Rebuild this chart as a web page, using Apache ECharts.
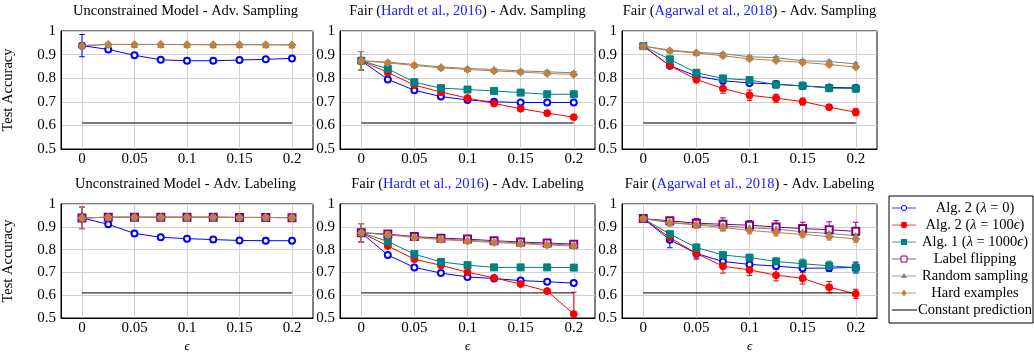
<!DOCTYPE html>
<html>
<head>
<meta charset="utf-8">
<script src="https://cdn.jsdelivr.net/npm/echarts@6/dist/echarts.min.js"></script>
<style>
html, body { margin: 0; padding: 0; background: #fff; }
#chart { width: 1034px; height: 354px; }
</style>
</head>
<body>
<div id="chart"></div>
<script>
// perturbation levels (x axis) and tick positions
const eps = [0, 0.025, 0.05, 0.075, 0.1, 0.125, 0.15, 0.175, 0.2];
const xTicks = [0, 0.05, 0.1, 0.15, 0.2];
const constantAcc = 0.61;

// Unconstrained model - adversarial sampling
const uncSampAlg2 = [0.938, 0.922, 0.897, 0.878, 0.874, 0.874, 0.877, 0.880, 0.884];
const uncSampAlg2Err = [0.047, 0.008, 0.009, 0.009, 0.010, 0.009, 0.009, 0.008, 0.008];
const uncSampRandom = [0.938, 0.943, 0.943, 0.943, 0.943, 0.942, 0.942, 0.942, 0.941];
const uncSampRandomErr = [0.004, 0.003, 0.003, 0.003, 0.003, 0.003, 0.003, 0.003, 0.003];
const uncSampHard = [0.938, 0.943, 0.943, 0.943, 0.942, 0.942, 0.942, 0.942, 0.941];
const uncSampHardErr = [0.004, 0.003, 0.003, 0.003, 0.003, 0.003, 0.003, 0.003, 0.003];

// Fair (Hardt et al., 2016) - adversarial sampling
const hardtSampAlg2Zero = [0.874, 0.795, 0.749, 0.722, 0.708, 0.700, 0.697, 0.697, 0.697];
const hardtSampAlg2ZeroErr = [0.039, 0.004, 0.004, 0.004, 0.004, 0.004, 0.004, 0.004, 0.004];
const hardtSampAlg2Reg = [0.874, 0.824, 0.771, 0.741, 0.716, 0.693, 0.671, 0.652, 0.635];
const hardtSampAlg2RegErr = [0.039, 0.006, 0.006, 0.008, 0.008, 0.010, 0.010, 0.008, 0.007];
const hardtSampAlg1 = [0.874, 0.840, 0.783, 0.758, 0.752, 0.746, 0.739, 0.732, 0.732];
const hardtSampAlg1Err = [0.039, 0.008, 0.008, 0.008, 0.006, 0.009, 0.010, 0.010, 0.010];
const hardtSampRandom = [0.874, 0.868, 0.858, 0.848, 0.841, 0.837, 0.831, 0.827, 0.823];
const hardtSampRandomErr = [0.039, 0.005, 0.005, 0.005, 0.005, 0.005, 0.005, 0.005, 0.005];
const hardtSampHard = [0.874, 0.865, 0.854, 0.844, 0.837, 0.831, 0.826, 0.820, 0.816];
const hardtSampHardErr = [0.039, 0.005, 0.005, 0.005, 0.005, 0.005, 0.005, 0.005, 0.005];

// Fair (Agarwal et al., 2018) - adversarial sampling
const agaSampAlg2Zero = [0.936, 0.853, 0.809, 0.789, 0.780, 0.775, 0.767, 0.761, 0.759];
const agaSampAlg2ZeroErr = [0.005, 0.005, 0.006, 0.006, 0.006, 0.008, 0.010, 0.010, 0.010];
const agaSampAlg2Reg = [0.936, 0.853, 0.795, 0.756, 0.728, 0.715, 0.701, 0.677, 0.656];
const agaSampAlg2RegErr = [0.005, 0.010, 0.015, 0.020, 0.022, 0.017, 0.015, 0.010, 0.015];
const agaSampAlg1 = [0.936, 0.880, 0.823, 0.799, 0.792, 0.773, 0.768, 0.758, 0.756];
const agaSampAlg1Err = [0.008, 0.010, 0.010, 0.012, 0.013, 0.015, 0.015, 0.015, 0.015];
const agaSampRandom = [0.936, 0.919, 0.909, 0.904, 0.891, 0.887, 0.874, 0.871, 0.860];
const agaSampRandomErr = [0.005, 0.005, 0.005, 0.005, 0.005, 0.005, 0.005, 0.005, 0.005];
const agaSampHard = [0.936, 0.916, 0.907, 0.895, 0.882, 0.875, 0.867, 0.858, 0.847];
const agaSampHardErr = [0.005, 0.006, 0.006, 0.006, 0.006, 0.006, 0.006, 0.006, 0.006];

// Unconstrained model - adversarial labeling
const uncLabAlg2 = [0.939, 0.911, 0.871, 0.854, 0.848, 0.844, 0.840, 0.839, 0.839];
const uncLabAlg2Err = [0.047, 0.008, 0.012, 0.010, 0.011, 0.011, 0.011, 0.011, 0.011];
const uncLabFlip = [0.939, 0.942, 0.942, 0.942, 0.942, 0.942, 0.941, 0.941, 0.940];
const uncLabFlipErr = [0.047, 0.003, 0.003, 0.003, 0.003, 0.003, 0.003, 0.003, 0.003];
const uncLabRandom = [0.939, 0.942, 0.942, 0.942, 0.942, 0.942, 0.941, 0.941, 0.940];
const uncLabRandomErr = [0.047, 0.003, 0.003, 0.003, 0.003, 0.003, 0.003, 0.003, 0.003];
const uncLabHard = [0.939, 0.942, 0.942, 0.942, 0.942, 0.942, 0.941, 0.941, 0.940];
const uncLabHardErr = [0.047, 0.003, 0.003, 0.003, 0.003, 0.003, 0.003, 0.003, 0.003];

// Fair (Hardt et al., 2016) - adversarial labeling
const hardtLabAlg2Zero = [0.874, 0.776, 0.722, 0.697, 0.680, 0.673, 0.664, 0.659, 0.653];
const hardtLabAlg2ZeroErr = [0.040, 0.008, 0.010, 0.010, 0.010, 0.010, 0.010, 0.010, 0.011];
const hardtLabAlg2Reg = [0.874, 0.816, 0.758, 0.731, 0.701, 0.676, 0.649, 0.618, 0.517];
const hardtLabAlg2RegErr = [0.040, 0.006, 0.008, 0.008, 0.006, 0.008, 0.008, 0.008, 0.096];
const hardtLabAlg1 = [0.874, 0.836, 0.780, 0.746, 0.732, 0.722, 0.722, 0.722, 0.721];
const hardtLabAlg1Err = [0.040, 0.006, 0.006, 0.006, 0.006, 0.006, 0.006, 0.006, 0.006];
const hardtLabFlip = [0.874, 0.868, 0.857, 0.850, 0.846, 0.839, 0.833, 0.829, 0.824];
const hardtLabFlipErr = [0.040, 0.005, 0.005, 0.005, 0.005, 0.005, 0.005, 0.005, 0.005];
const hardtLabRandom = [0.874, 0.866, 0.855, 0.847, 0.841, 0.835, 0.829, 0.824, 0.820];
const hardtLabRandomErr = [0.040, 0.005, 0.005, 0.005, 0.005, 0.005, 0.005, 0.005, 0.005];
const hardtLabHard = [0.874, 0.865, 0.853, 0.844, 0.837, 0.831, 0.826, 0.820, 0.816];
const hardtLabHardErr = [0.040, 0.005, 0.005, 0.005, 0.005, 0.005, 0.005, 0.005, 0.005];

// Fair (Agarwal et al., 2018) - adversarial labeling
const agaLabAlg2Zero = [0.936, 0.843, 0.783, 0.748, 0.735, 0.728, 0.718, 0.719, 0.722];
const agaLabAlg2ZeroErr = [0.005, 0.035, 0.020, 0.010, 0.010, 0.010, 0.010, 0.015, 0.020];
const agaLabAlg2Reg = [0.936, 0.853, 0.783, 0.727, 0.711, 0.688, 0.674, 0.635, 0.606];
const agaLabAlg2RegErr = [0.005, 0.012, 0.025, 0.030, 0.025, 0.025, 0.025, 0.025, 0.020];
const agaLabAlg1 = [0.936, 0.868, 0.809, 0.776, 0.765, 0.748, 0.738, 0.729, 0.721];
const agaLabAlg1Err = [0.005, 0.010, 0.015, 0.012, 0.012, 0.015, 0.020, 0.020, 0.025];
const agaLabFlip = [0.936, 0.926, 0.916, 0.911, 0.907, 0.899, 0.892, 0.887, 0.880];
const agaLabFlipErr = [0.005, 0.015, 0.020, 0.028, 0.020, 0.028, 0.028, 0.035, 0.040];
const agaLabRandom = [0.936, 0.919, 0.911, 0.904, 0.896, 0.890, 0.878, 0.871, 0.861];
const agaLabRandomErr = [0.005, 0.008, 0.008, 0.010, 0.010, 0.010, 0.010, 0.010, 0.010];
const agaLabHard = [0.936, 0.918, 0.908, 0.897, 0.884, 0.875, 0.867, 0.857, 0.847];
const agaLabHardErr = [0.005, 0.015, 0.015, 0.015, 0.015, 0.015, 0.015, 0.015, 0.015];

const Y_MIN = 0.5, Y_MAX = 1;
const FONT = '"Liberation Serif", "DejaVu Serif", serif';
const CITE_BLUE = '#1a1aff';
const TICK_SIZE = 15, TITLE_SIZE = 14.5, LEGEND_SIZE = 14.5;

// one style per method; label uses rich markup for the italic math symbols
const styles = {
  alg2Zero: { name: 'Alg. 2 (λ = 0)', label: 'Alg. 2 ({i|λ} = 0)', color: '#0000ff', symbol: 'emptyCircle', size: 6 },
  alg2Reg: { name: 'Alg. 2 (λ = 100ϵ)', label: 'Alg. 2 ({i|λ} = 100{i|ϵ})', color: '#ff0000', symbol: 'circle', size: 7 },
  alg1: { name: 'Alg. 1 (λ = 1000ϵ)', label: 'Alg. 1 ({i|λ} = 1000{i|ϵ})', color: '#008080', symbol: 'rect', size: 7 },
  flip: { name: 'Label flipping', label: 'Label flipping', color: '#800080', symbol: 'emptyRect', size: 7 },
  random: { name: 'Random sampling', label: 'Random sampling', color: '#808080', symbol: 'triangle', size: 6 },
  hard: { name: 'Hard examples', label: 'Hard examples', color: '#bf8040', symbol: 'diamond', size: 8 }
};

// panel layout: [left, top] of each plotting box
const PW = 255, PH = 118;
const panels = [
  { left: 58, top: 31, title: [['Unconstrained Model - Adv. Sampling']], yName: true, xName: false, constColor: '#7a7a7a', constWidth: 2,
    lines: [['alg2Zero', uncSampAlg2, uncSampAlg2Err], ['random', uncSampRandom, uncSampRandomErr], ['hard', uncSampHard, uncSampHardErr]] },
  { left: 340, top: 31, title: [['Fair ('], ['Hardt et al., 2016', 'cite'], [') - Adv. Sampling']], yName: false, xName: false, constColor: '#7a7a7a', constWidth: 2,
    lines: [['alg2Zero', hardtSampAlg2Zero, hardtSampAlg2ZeroErr], ['alg2Reg', hardtSampAlg2Reg, hardtSampAlg2RegErr], ['alg1', hardtSampAlg1, hardtSampAlg1Err], ['random', hardtSampRandom, hardtSampRandomErr], ['hard', hardtSampHard, hardtSampHardErr]] },
  { left: 622, top: 31, title: [['Fair ('], ['Agarwal et al., 2018', 'cite'], [') - Adv. Sampling']], yName: false, xName: false, constColor: '#7a7a7a', constWidth: 2,
    lines: [['alg2Zero', agaSampAlg2Zero, agaSampAlg2ZeroErr], ['alg2Reg', agaSampAlg2Reg, agaSampAlg2RegErr], ['alg1', agaSampAlg1, agaSampAlg1Err], ['random', agaSampRandom, agaSampRandomErr], ['hard', agaSampHard, agaSampHardErr]] },
  { left: 58, top: 204, title: [['Unconstrained Model - Adv. Labeling']], yName: true, xName: true, constColor: '#000', constWidth: 1,
    lines: [['alg2Zero', uncLabAlg2, uncLabAlg2Err], ['flip', uncLabFlip, uncLabFlipErr], ['random', uncLabRandom, uncLabRandomErr], ['hard', uncLabHard, uncLabHardErr]] },
  { left: 340, top: 204, title: [['Fair ('], ['Hardt et al., 2016', 'cite'], [') - Adv. Labeling']], yName: false, xName: true, constColor: '#000', constWidth: 1,
    lines: [['alg2Zero', hardtLabAlg2Zero, hardtLabAlg2ZeroErr], ['alg2Reg', hardtLabAlg2Reg, hardtLabAlg2RegErr], ['alg1', hardtLabAlg1, hardtLabAlg1Err], ['flip', hardtLabFlip, hardtLabFlipErr], ['random', hardtLabRandom, hardtLabRandomErr], ['hard', hardtLabHard, hardtLabHardErr]] },
  { left: 622, top: 204, title: [['Fair ('], ['Agarwal et al., 2018', 'cite'], [') - Adv. Labeling']], yName: false, xName: true, constColor: '#000', constWidth: 1,
    lines: [['alg2Zero', agaLabAlg2Zero, agaLabAlg2ZeroErr], ['alg2Reg', agaLabAlg2Reg, agaLabAlg2RegErr], ['alg1', agaLabAlg1, agaLabAlg1Err], ['flip', agaLabFlip, agaLabFlipErr], ['random', agaLabRandom, agaLabRandomErr], ['hard', agaLabHard, agaLabHardErr]] }
];

// vertical error bar with caps, clipped to the y range
function renderErrorBar(params, api) {
  const x = api.value(0), y = api.value(1), e = api.value(2);
  const hiV = Math.min(y + e, Y_MAX), loV = Math.max(y - e, Y_MIN);
  const hi = api.coord([x, hiV]), lo = api.coord([x, loV]);
  const style = { stroke: api.visual('color'), lineWidth: 1 };
  const cap = 2.8;
  const children = [{ type: 'line', shape: { x1: hi[0], y1: hi[1], x2: lo[0], y2: lo[1] }, style }];
  if (y + e <= Y_MAX) children.push({ type: 'line', shape: { x1: hi[0] - cap, y1: hi[1], x2: hi[0] + cap, y2: hi[1] }, style });
  if (y - e >= Y_MIN) children.push({ type: 'line', shape: { x1: lo[0] - cap, y1: lo[1], x2: lo[0] + cap, y2: lo[1] }, style });
  return { type: 'group', children };
}

const grid = [], xAxis = [], yAxis = [], series = [], title = [];
panels.forEach((p, i) => {
  grid.push({ left: p.left, top: p.top, width: PW, height: PH, show: true, borderColor: '#000', borderWidth: 1, backgroundColor: 'transparent' });
  xAxis.push({
    gridIndex: i, type: 'value', min: -0.02, max: 0.22,
    name: p.xName ? 'ϵ' : '', nameLocation: 'middle', nameGap: 22,
    nameTextStyle: { fontFamily: FONT, fontSize: 13, fontStyle: 'italic', color: '#000' },
    axisLine: { show: true, onZero: false, lineStyle: { color: '#000', width: 1 } },
    axisTick: { show: false, customValues: xTicks },
    axisLabel: { customValues: xTicks, fontFamily: FONT, fontSize: TICK_SIZE, color: '#000', margin: 3 },
    splitLine: { show: true, lineStyle: { color: '#d0d0d0', width: 1 } }
  });
  yAxis.push({
    gridIndex: i, type: 'value', min: Y_MIN, max: Y_MAX, interval: 0.1,
    name: p.yName ? 'Test Accuracy' : '', nameLocation: 'middle', nameGap: 45, nameRotate: 90,
    nameTextStyle: { fontFamily: FONT, fontSize: 14.5, color: '#000' },
    axisLine: { show: true, onZero: false, lineStyle: { color: '#000', width: 1 } },
    axisTick: { show: false },
    axisLabel: { fontFamily: FONT, fontSize: TICK_SIZE, color: '#000', margin: 5 },
    splitLine: { show: true, lineStyle: { color: '#d0d0d0', width: 1 } }
  });
  // title made of plain and citation-coloured pieces
  const text = p.title.map(([t, k]) => k ? '{' + k + '|' + t + '}' : '{n|' + t + '}').join('');
  title.push({
    text, left: p.left + PW / 2, top: p.top - 27, textAlign: 'center', padding: 0,
    textStyle: {
      fontFamily: FONT, fontSize: TITLE_SIZE, fontWeight: 'normal', color: '#000',
      rich: { n: { fontFamily: FONT, fontSize: TITLE_SIZE, color: '#000' }, cite: { fontFamily: FONT, fontSize: TITLE_SIZE, color: CITE_BLUE } }
    }
  });
  p.lines.forEach(([key, vals, errs]) => {
    const s = styles[key];
    series.push({
      type: 'custom', name: s.name, xAxisIndex: i, yAxisIndex: i, z: 2,
      itemStyle: { color: s.color }, renderItem: renderErrorBar, silent: true,
      data: eps.map((x, k) => [x, vals[k], errs[k]])
    });
    series.push({
      type: 'line', name: s.name, xAxisIndex: i, yAxisIndex: i, z: 3,
      symbol: s.symbol, symbolSize: s.size, showSymbol: true,
      itemStyle: { color: s.color, borderColor: s.color, borderWidth: 1 },
      lineStyle: { color: s.color, width: 1 },
      animation: false, silent: true,
      data: eps.map((x, k) => [x, vals[k]])
    });
  });
  series.push({
    type: 'line', name: 'Constant prediction', xAxisIndex: i, yAxisIndex: i, z: 3,
    symbol: 'none', lineStyle: { color: p.constColor, width: p.constWidth }, animation: false, silent: true,
    data: [[eps[0], constantAcc], [eps[eps.length - 1], constantAcc]]
  });
});

// legend box drawn beside the bottom-right panel
const legendOrder = ['alg2Zero', 'alg2Reg', 'alg1', 'flip', 'random', 'hard'];
const LX = 889, LY = 196, LW = 144, LH = 127, ROW = 17, ROW0 = 208;
const legendRich = { i: { fontFamily: FONT, fontSize: LEGEND_SIZE, fontStyle: 'italic', fill: '#000' } };
const graphics = [{ type: 'rect', shape: { x: LX, y: LY, width: LW, height: LH }, style: { fill: '#fff', stroke: '#000', lineWidth: 1 }, z: 10 }];
function markerShape(sym, cx, cy, color) {
  const r = 3;
  switch (sym) {
    case 'emptyCircle': return { type: 'circle', shape: { cx, cy, r: 2.6 }, style: { fill: '#fff', stroke: color, lineWidth: 1 } };
    case 'circle': return { type: 'circle', shape: { cx, cy, r: 3.2 }, style: { fill: color } };
    case 'rect': return { type: 'rect', shape: { x: cx - r, y: cy - r, width: 2 * r, height: 2 * r }, style: { fill: color } };
    case 'emptyRect': return { type: 'rect', shape: { x: cx - r, y: cy - r, width: 2 * r, height: 2 * r }, style: { fill: '#fff', stroke: color, lineWidth: 1 } };
    case 'triangle': return { type: 'polygon', shape: { points: [[cx, cy - 3], [cx + 3, cy + 2], [cx - 3, cy + 2]] }, style: { fill: color } };
    default: return { type: 'polygon', shape: { points: [[cx, cy - 3.5], [cx + 2.5, cy], [cx, cy + 3.5], [cx - 2.5, cy]] }, style: { fill: color } };
  }
}
legendOrder.forEach((key, r) => {
  const s = styles[key], cy = ROW0 + r * ROW;
  graphics.push({ type: 'line', shape: { x1: 892, y1: cy, x2: 916, y2: cy }, style: { stroke: s.color, lineWidth: 1, opacity: 0.75 }, z: 11 });
  graphics.push(Object.assign(markerShape(s.symbol, 904, cy, s.color), { z: 12 }));
  graphics.push({ type: 'text', x: 975, y: cy, z: 12, style: { text: s.label, rich: legendRich, fontFamily: FONT, fontSize: LEGEND_SIZE, fill: '#000', align: 'center', verticalAlign: 'middle' } });
});
const lastY = ROW0 + 6 * ROW;
graphics.push({ type: 'line', shape: { x1: 892, y1: lastY, x2: 917, y2: lastY }, style: { stroke: '#000', lineWidth: 1 }, z: 11 });
graphics.push({ type: 'text', x: 975, y: lastY, z: 12, style: { text: 'Constant prediction', fontFamily: FONT, fontSize: LEGEND_SIZE, fill: '#000', align: 'center', verticalAlign: 'middle' } });

const chart = echarts.init(document.getElementById('chart'), null, { renderer: 'canvas' });
chart.setOption({
  animation: false,
  backgroundColor: '#fff',
  title, grid, xAxis, yAxis, series,
  graphic: { elements: graphics }
});
</script>
</body>
</html>
